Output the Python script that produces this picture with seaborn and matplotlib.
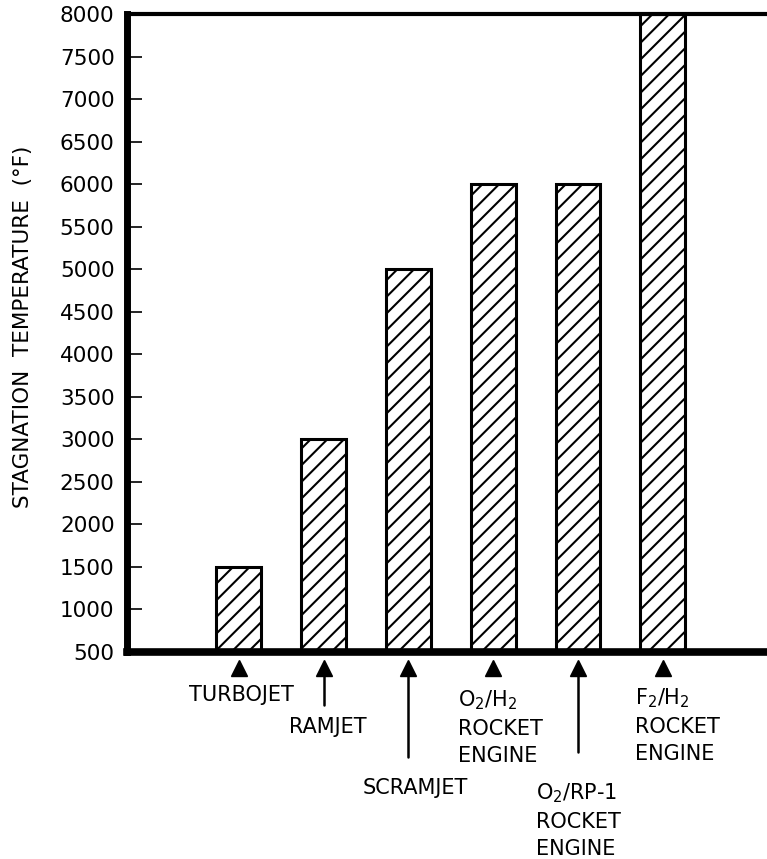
import matplotlib
matplotlib.use("Agg")
import matplotlib.pyplot as plt
import seaborn as sns
import pandas as pd

# data
engines = ["TURBOJET", "RAMJET", "SCRAMJET", "O2/H2", "O2/RP-1", "F2/H2"]
temps = [1500, 3000, 5000, 6000, 6000, 8000]
labels = ["TURBOJET", "RAMJET", "SCRAMJET",
          "O$_2$/H$_2$\nROCKET\nENGINE",
          "O$_2$/RP-1\nROCKET\nENGINE",
          "F$_2$/H$_2$\nROCKET\nENGINE"]
yticks = list(range(500, 8001, 500))

# layout of the arrows / labels under the axis (axes fraction y)
stem_end = [None, -0.0831, -0.1646, None, -0.1567, None]
label_x = [0.03, 1.05, 2.08, 2.58, 3.51, 4.67]
label_y = [-0.0674, -0.1176, -0.2132, -0.0564, -0.2022, -0.0533]
label_ha = ["center", "center", "center", "left", "left", "left"]
label_va = ["center", "center", "center", "top", "top", "top"]

sns.set_theme(style="white")
plt.rcParams["font.family"] = ["DejaVu Sans"]
plt.rcParams["hatch.linewidth"] = 1.5
plt.rcParams["hatch.color"] = "black"

df = pd.DataFrame({"engine": engines, "temp": temps})

fig = plt.figure(figsize=(7.67, 8.59), dpi=100)
ax = fig.add_axes([127 / 767, 1 - 652 / 859, 1 - 127 / 767, (652 - 14) / 859])

sns.barplot(data=df, x="engine", y="temp", color="white", edgecolor="black",
            linewidth=2.2, width=0.53, saturation=1, ax=ax)
for p in ax.patches:
    p.set_hatch("//")
    p.set_facecolor("white")

ax.set_ylim(500, 8000)
ax.set_xlim(-1.32, 6.23)
ax.set_yticks(yticks)
ax.set_yticklabels([str(t) for t in yticks], fontsize=15.5)
ax.tick_params(axis="y", direction="in", length=11, width=1.2, pad=9, colors="black", left=True)
ax.set_xticks([])
ax.set_xlabel("")
ax.set_ylabel("STAGNATION  TEMPERATURE  (°F)", fontsize=15.5, color="black")
ax.yaxis.set_label_coords(-0.147, 0.51)

ax.spines["right"].set_visible(False)
ax.spines["left"].set_linewidth(5)
ax.spines["bottom"].set_linewidth(5.5)
ax.spines["top"].set_linewidth(3)
for side in ["left", "bottom", "top"]:
    ax.spines[side].set_color("black")

trans = ax.get_xaxis_transform()
for i in range(len(engines)):
    ax.plot([i], [-0.0251], marker="^", markersize=12, color="black",
            transform=trans, clip_on=False)
    if stem_end[i] is not None:
        ax.plot([i, i], [-0.0376, stem_end[i]], color="black", lw=1.8,
                transform=trans, clip_on=False)
    ax.text(label_x[i], label_y[i], labels[i], transform=trans, fontsize=15,
            ha=label_ha[i], va=label_va[i], linespacing=1.45, color="black")

fig.savefig("out.png", dpi=100)
